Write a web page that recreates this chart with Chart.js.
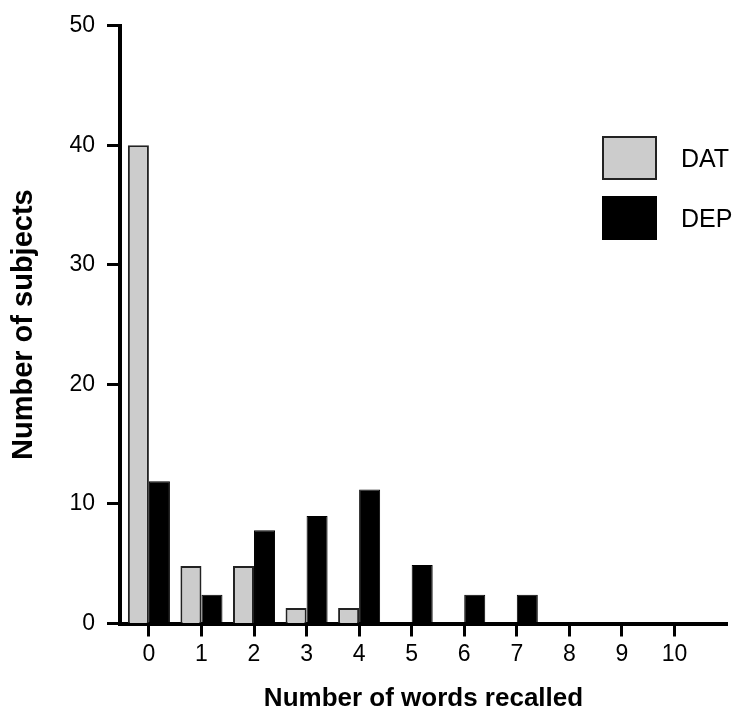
<!DOCTYPE html>
<html>
<head>
<meta charset="utf-8">
<script src="https://cdn.jsdelivr.net/npm/chart.js@4"></script>
<style>
  body { margin: 0; background: #fff; }
  #wrap { position: relative; width: 735px; height: 712px; }
  #legend { position: absolute; left: 602px; top: 136px; font: 25px "Liberation Sans", Arial, sans-serif; color: #000; }
  .item { display: flex; align-items: center; height: 44px; margin-bottom: 16px; }
  .swatch { width: 55px; height: 44px; box-sizing: border-box; border: 2px solid #222; margin-right: 24px; }
</style>
</head>
<body>
<div id="wrap">
  <canvas id="chart" width="735" height="712"></canvas>
  <div id="legend"></div>
</div>
<script>
// Data
const words = [0, 1, 2, 3, 4, 5, 6, 7, 8, 9, 10];
const datCounts = [40, 4.8, 4.8, 1.3, 1.3, 0, 0, 0, 0, 0, 0];
const depCounts = [11.9, 2.4, 7.8, 9.0, 11.2, 4.9, 2.4, 2.4, 0, 0, 0];
const yTicks = [0, 10, 20, 30, 40, 50];

const FONT = '"Liberation Sans", Arial, sans-serif';

const datasets = [
  {
    label: 'DAT',
    data: words.map((w, i) => ({ x: w, y: datCounts[i] })),
    backgroundColor: '#cccccc',
    borderColor: '#222',
    borderWidth: 2
  },
  {
    label: 'DEP',
    data: words.map((w, i) => ({ x: w, y: depCounts[i] })),
    backgroundColor: '#000',
    borderColor: '#000',
    borderWidth: 1
  }
];

const chart = new Chart(document.getElementById('chart'), {
  type: 'bar',
  data: { datasets },
  options: {
    responsive: false,
    animation: false,
    layout: { padding: { top: 19, right: 8, left: 0, bottom: 0 } },
    datasets: { bar: { categoryPercentage: 0.8, barPercentage: 1.0 } },
    plugins: { legend: { display: false }, tooltip: { enabled: false } },
    scales: {
      x: {
        type: 'linear',
        offset: false,
        min: -0.55,
        max: 11,
        afterBuildTicks: s => { s.ticks = words.map(v => ({ value: v })); },
        ticks: { color: '#000', font: { size: 23, family: FONT }, padding: 4, autoSkip: false, maxRotation: 0 },
        grid: { offset: false, drawOnChartArea: false, tickLength: 13, tickWidth: 3, color: '#000' },
        border: { width: 4, color: '#000' },
        title: {
          display: true, text: 'Number of words recalled', color: '#000',
          font: { size: 26, weight: 'bold', family: FONT, lineHeight: 1 },
          padding: { top: 0, bottom: 0 }
        },
        afterFit: s => { s.height = 88.5; }
      },
      y: {
        min: 0,
        max: 50,
        afterBuildTicks: s => { s.ticks = yTicks.map(v => ({ value: v })); },
        ticks: { color: '#000', font: { size: 23, family: FONT }, padding: 12 },
        grid: { drawOnChartArea: false, tickLength: 13, tickWidth: 3, color: '#000' },
        border: { width: 4, color: '#000' },
        title: {
          display: true, text: 'Number of subjects', color: '#000',
          font: { size: 29, weight: 'bold', family: FONT, lineHeight: 1 },
          padding: { top: 9, bottom: 0 }
        },
        afterFit: s => { s.width = 120; }
      }
    }
  }
});

// Legend built from the datasets
const legend = document.getElementById('legend');
chart.data.datasets.forEach(ds => {
  const item = document.createElement('div');
  item.className = 'item';
  const sw = document.createElement('div');
  sw.className = 'swatch';
  sw.style.background = ds.backgroundColor;
  sw.style.borderColor = ds.borderColor;
  const txt = document.createElement('span');
  txt.textContent = ds.label;
  item.appendChild(sw);
  item.appendChild(txt);
  legend.appendChild(item);
});
</script>
</body>
</html>
